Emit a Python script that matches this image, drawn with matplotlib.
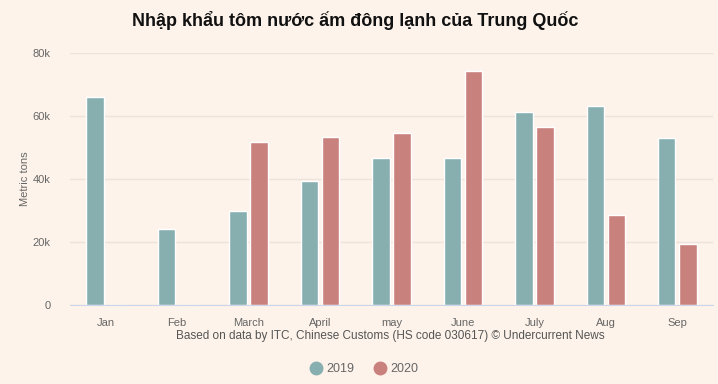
import numpy as np
import matplotlib.pyplot as plt
from matplotlib.lines import Line2D
from matplotlib.ticker import FuncFormatter

plt.rcParams['font.family'] = ['Liberation Sans', 'DejaVu Sans']

# Data [thousand metric tons]
months = ['Jan', 'Feb', 'March', 'April', 'may', 'June', 'July', 'Aug', 'Sep']
y2019 = [66.0, 24.1, 29.8, 39.4, 46.6, 46.6, 61.2, 63.3, 53.1]
y2020 = [0, 0, 51.8, 53.3, 54.6, 74.3, 56.6, 28.6, 19.5]

BG = '#fdf3ea'
C19 = '#88afb0'
C20 = '#c9817e'
TXT = '#666666'

fig = plt.figure(figsize=(7.18, 3.84), dpi=100, facecolor=BG)
ax = fig.add_axes([70/718, 1 - 305/384, 643/718, 252/384], facecolor=BG)

x = np.arange(len(months))
w = 0.245
off = 0.148
ax.bar(x - off, np.array(y2019) * 1000, width=w, color=C19, edgecolor='white', linewidth=1, zorder=3)
ax.bar(x + off, np.array(y2020) * 1000, width=w, color=C20, edgecolor='white', linewidth=1, zorder=3)

ax.set_xlim(-0.5, len(months) - 0.5)
ax.set_ylim(0, 80000)
ax.set_yticks([0, 20000, 40000, 60000, 80000])
ax.yaxis.set_major_formatter(FuncFormatter(lambda v, p: '0' if v == 0 else f'{int(v/1000)}k'))
ax.set_xticks(x)
ax.set_xticklabels(months)
ax.tick_params(axis='both', length=0, labelsize=8, colors=TXT)
ax.tick_params(axis='x', pad=9)
ax.tick_params(axis='y', pad=14)
ax.grid(axis='y', color='#ebe3dc', linewidth=1, zorder=0)
for s in ['top', 'right', 'left']:
    ax.spines[s].set_visible(False)
ax.spines['bottom'].set_color('#ccd6eb')
ax.spines['bottom'].set_zorder(4)
ax.set_ylabel('Metric tons', fontsize=8, color=TXT, labelpad=2)

fig.text(355/718, 1 - 20/384, 'Nhập khẩu tôm nước ấm đông lạnh của Trung Quốc',
         ha='center', va='center', fontsize=13, fontweight='bold', color='#111111')
fig.text(390/718, 1 - 336/384, 'Based on data by ITC, Chinese Customs (HS code 030617) © Undercurrent News',
         ha='center', va='center', fontsize=8.5, color='#555555')

handles = [Line2D([], [], marker='o', linestyle='', markersize=9, color=C19),
           Line2D([], [], marker='o', linestyle='', markersize=9, color=C20)]
fig.legend(handles, ['2019', '2020'], loc='center', bbox_to_anchor=(364/718, 1 - 369/384),
           ncol=2, frameon=False, fontsize=9, labelcolor=TXT, handletextpad=0.3,
           columnspacing=1.6, handlelength=1.0)

fig.savefig('out.png', dpi=100, facecolor=BG)
